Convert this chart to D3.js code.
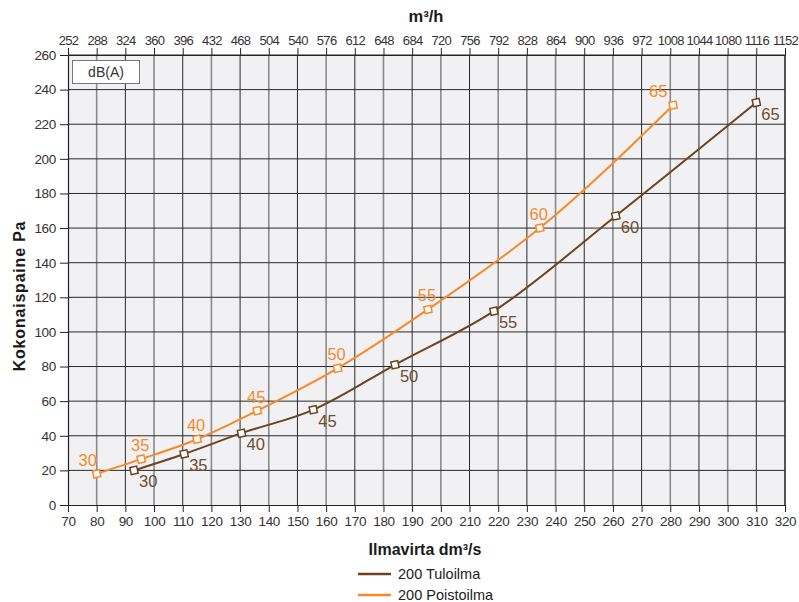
<!DOCTYPE html>
<html><head><meta charset="utf-8">
<script src="https://cdn.jsdelivr.net/npm/d3@7"></script>
<style>
body{margin:0;background:#fff;}
text{font-family:"Liberation Sans",Arial,sans-serif;}
</style></head>
<body><svg id="c" width="799" height="602"></svg>
<script>
const xTicks = d3.range(70, 321, 10);
const yTicks = d3.range(0, 261, 20);
const topTickLabels = d3.range(252, 1153, 36);
const tuloFlow = [93, 110.5, 130.5, 155.5, 184, 218.5, 261, 310];
const tuloPa = [20, 29.5, 41.5, 55, 81, 112, 167, 232.5];
const poistoFlow = [80, 95.5, 115, 136, 164, 195.5, 234.5, 281];
const poistoPa = [18, 26.5, 38, 54.5, 79, 113, 160, 231];
const dBLabels = [30, 35, 40, 45, 50, 55, 60, 65];
const seriesNames = ["200 Tuloilma", "200 Poistoilma"];

const svg = d3.select("#c");
const L = 68, R = 785, T = 55, B = 505;
const x = d3.scaleLinear().domain([70, 320]).range([L, R]);
const y = d3.scaleLinear().domain([0, 260]).range([B, T]);
const xTop = d3.scaleLinear().domain([252, 1152]).range([L, R]);

svg.append("rect").attr("x", L).attr("y", T).attr("width", R - L).attr("height", B - T).attr("fill", "#f1f1f3");

// vertical grid
svg.append("g").selectAll("line").data(xTicks.slice(1)).join("line")
  .attr("x1", d => x(d)).attr("x2", d => x(d)).attr("y1", T).attr("y2", B)
  .attr("stroke", d => (d / 10) % 2 === 0 ? "#8a8a8a" : "#2a2a2a")
  .attr("stroke-width", d => (d / 10) % 2 === 0 ? 1.6 : 1);
// horizontal grid
svg.append("g").selectAll("line").data(yTicks.slice(1)).join("line")
  .attr("x1", L).attr("x2", R).attr("y1", d => y(d)).attr("y2", d => y(d))
  .attr("stroke", "#2a2a2a").attr("stroke-width", 1);

// axes
const gBottom = svg.append("g").attr("transform", `translate(0,${B})`)
  .call(d3.axisBottom(x).tickValues(xTicks).tickSize(7).tickPadding(4).tickSizeOuter(0));
const gLeft = svg.append("g").attr("transform", `translate(${L},0)`)
  .call(d3.axisLeft(y).tickValues(yTicks).tickSize(8).tickPadding(4).tickSizeOuter(0));
const gTop = svg.append("g").attr("transform", `translate(0,${T})`)
  .call(d3.axisTop(xTop).tickValues(topTickLabels).tickFormat(d3.format("d")).tickSize(7).tickPadding(3).tickSizeOuter(0));
[gBottom, gLeft, gTop].forEach(g => {
  g.select(".domain").attr("stroke", "#222").attr("stroke-width", 1.2);
  g.selectAll(".tick line").attr("stroke", "#222");
  g.selectAll(".tick text").attr("fill", "#333").attr("font-size", 13.5)
    .attr("font-family", "'Liberation Sans',Arial,sans-serif").attr("letter-spacing", -0.3);
});
gTop.selectAll(".tick text").attr("font-size", 13).attr("letter-spacing", -0.7);
// right border
svg.append("line").attr("x1", R).attr("x2", R).attr("y1", T).attr("y2", B).attr("stroke", "#222").attr("stroke-width", 1.2);

// titles
svg.append("text").attr("x", 426).attr("y", 22).attr("text-anchor", "middle")
  .attr("font-weight", "bold").attr("font-size", 16.5).attr("fill", "#1a1a1a").text("m³/h");
svg.append("text").attr("x", 425).attr("y", 555).attr("text-anchor", "middle")
  .attr("font-weight", "bold").attr("font-size", 16).attr("fill", "#1a1a1a").text("Ilmavirta dm³/s");
svg.append("text").attr("transform", "translate(25,296) rotate(-90)").attr("text-anchor", "middle")
  .attr("font-weight", "bold").attr("font-size", 16).attr("fill", "#1a1a1a").attr("letter-spacing", 0.8).text("Kokonaispaine Pa");

// dB(A) box
svg.append("rect").attr("x", 72.5).attr("y", 60.5).attr("width", 67).attr("height", 23)
  .attr("fill", "#fff").attr("stroke", "#777");
svg.append("text").attr("x", 106).attr("y", 77).attr("text-anchor", "middle")
  .attr("font-size", 14).attr("fill", "#333").text("dB(A)");

const n = dBLabels.length;
const series = [
  {name: seriesNames[0], xs: tuloFlow, ys: tuloPa, color: "#6b4321", lab: "#6e4d33",
   dx: () => 5, dy: () => 17, anchor: "start"},
  {name: seriesNames[1], xs: poistoFlow, ys: poistoPa, color: "#f7892b", lab: "#f7892b",
   dx: i => i === 0 ? -9 : i === n - 1 ? -15 : -1, dy: () => -8, anchor: "middle"}
];
const line = d3.line().x(d => x(d[0])).y(d => y(d[1])).curve(d3.curveMonotoneX);
series.forEach(s => {
  const pts = s.xs.map((v, i) => [v, s.ys[i], dBLabels[i], i]);
  svg.append("path").datum(pts).attr("d", line).attr("fill", "none")
    .attr("stroke", s.color).attr("stroke-width", 2);
  svg.append("g").selectAll("rect").data(pts).join("rect")
    .attr("x", d => x(d[0]) - 3.5).attr("y", d => y(d[1]) - 3.5).attr("width", 7).attr("height", 7)
    .attr("transform", d => `rotate(-12,${x(d[0])},${y(d[1])})`)
    .attr("fill", "#fff").attr("stroke", s.color).attr("stroke-width", 1.5);
  svg.append("g").selectAll("text").data(pts).join("text")
    .attr("x", d => x(d[0]) + s.dx(d[3]))
    .attr("y", d => y(d[1]) + s.dy(d[3]))
    .attr("text-anchor", s.anchor).attr("font-size", 16.5).attr("fill", s.lab)
    .text(d => d[2]);
});

// legend
series.forEach((s, i) => {
  const yy = 574 + i * 21;
  svg.append("line").attr("x1", 358).attr("x2", 391).attr("y1", yy).attr("y2", yy)
    .attr("stroke", s.color).attr("stroke-width", 2.5);
  svg.append("text").attr("x", 398).attr("y", yy + 5).attr("font-size", 14.5).attr("fill", "#222")
    .text(s.name);
});
</script></body></html>
